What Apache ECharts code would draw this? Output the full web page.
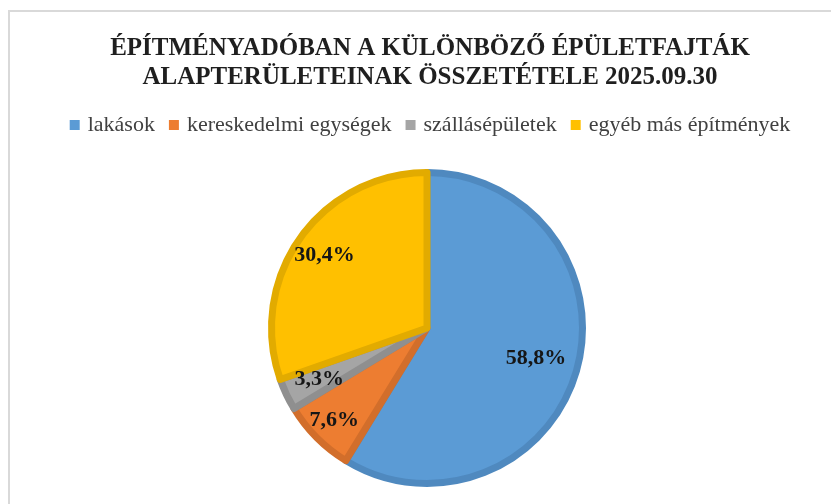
<!DOCTYPE html>
<html>
<head>
<meta charset="utf-8">
<script src="https://cdn.jsdelivr.net/npm/echarts@6/dist/echarts.min.js"></script>
<style>
    html, body { margin: 0; padding: 0; background: #fff; overflow: hidden; }
    #chart_box {
        position: absolute;
        left: 8px;
        top: 10px;
        width: 840px;
        height: 500px;
        border-left: 2px solid #d9d9d9;
        border-top: 2px solid #d9d9d9;
    }
</style>
</head>
<body>
<div id="chart_box"></div>
<script>
    // adatok
    let titleLines = ['ÉPÍTMÉNYADÓBAN A KÜLÖNBÖZŐ ÉPÜLETFAJTÁK', 'ALAPTERÜLETEINAK ÖSSZETÉTELE 2025.09.30'];
    let categories = ['lakások', 'kereskedelmi egységek', 'szállásépületek', 'egyéb más építmények'];
    let shares = [58.8, 7.6, 3.3, 30.4];

    let colors = ['#5b9bd5', '#ed7d31', '#a5a5a5', '#ffc000'];
    let borderColors = ['#4f89bf', '#d26e2b', '#8f8f8f', '#e2ab00'];
    // label distance from center, as part of the radius (Excel "best fit")
    let labelReach = [0.713, 0.823, 0.749, 0.79];

    let center = [417, 316];
    let outerR = 159;

    let data = [];
    categories.forEach(function (name, i) {
        data.push({
            name: name,
            value: shares[i],
            itemStyle: {color: colors[i], borderColor: borderColors[i]}
        });
    });

    let chart = echarts.init(document.getElementById('chart_box'));
    let option = {
        backgroundColor: '#fff',
        animation: false,
        title: {
            text: titleLines.join('\n'),
            left: 'center',
            top: 17,
            textStyle: {
                fontFamily: 'Liberation Serif',
                fontWeight: 'bold',
                fontSize: 25,
                lineHeight: 29,
                color: '#1f1f1f'
            }
        },
        legend: {
            data: categories,
            top: 97,
            left: 'center',
            icon: 'rect',
            itemWidth: 10,
            itemHeight: 10,
            itemGap: 14,
            itemStyle: {borderWidth: 0},
            textStyle: {
                fontFamily: 'Liberation Serif',
                fontSize: 22,
                color: '#404040',
                padding: [0, 0, 0, 3]
            }
        },
        series: [
            {
                type: 'pie',
                center: center,
                radius: [0, outerR - 3.5],
                startAngle: 90,
                clockwise: true,
                data: data,
                itemStyle: {borderWidth: 7},
                emphasis: {disabled: true},
                label: {
                    show: true,
                    position: 'inside',
                    fontFamily: 'Liberation Serif',
                    fontWeight: 'bold',
                    fontSize: 22,
                    color: '#161616',
                    formatter: function (p) {
                        return p.value.toFixed(1).replace('.', ',') + '%';
                    }
                },
                labelLine: {show: false},
                labelLayout: function (p) {
                    let r = p.labelRect;
                    let lx = r.x + r.width / 2, ly = r.y + r.height / 2;
                    let dx = lx - center[0], dy = ly - center[1];
                    let d = Math.sqrt(dx * dx + dy * dy) || 1;
                    let want = labelReach[p.dataIndex] * outerR;
                    return {dx: dx / d * (want - d), dy: dy / d * (want - d)};
                }
            }
        ]
    };
    chart.setOption(option);
</script>
</body>
</html>
